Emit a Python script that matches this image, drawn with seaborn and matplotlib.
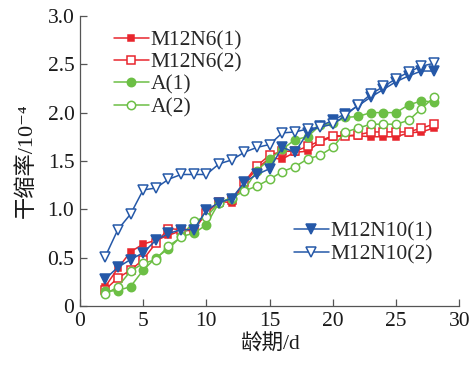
import matplotlib
matplotlib.use('Agg')
import matplotlib.pyplot as plt
import seaborn as sns
import numpy as np
import pandas as pd

# 龄期 (d)
days = list(range(2, 29))

m12n6_1 = [0.20, 0.39, 0.56, 0.64, 0.68, 0.73, 0.78, 0.78, 0.97, 1.08, 1.07, 1.27, 1.42, 1.53,
           1.52, 1.59, 1.60, 1.70, 1.75, 1.76, 1.76, 1.75, 1.75, 1.75, 1.79, 1.80, 1.84]
m12n6_2 = [0.17, 0.29, 0.37, 0.48, 0.65, 0.80, 0.79, 0.79, 0.96, 1.08, 1.10, 1.28, 1.45, 1.56,
           1.60, 1.60, 1.65, 1.71, 1.76, 1.76, 1.77, 1.80, 1.80, 1.80, 1.80, 1.84, 1.88]
a_1 = [0.15, 0.16, 0.20, 0.37, 0.50, 0.59, 0.72, 0.75, 0.84, 1.07, 1.11, 1.20, 1.40, 1.52,
       1.62, 1.72, 1.75, 1.87, 1.89, 1.95, 1.96, 2.00, 2.00, 2.00, 2.08, 2.12, 2.11]
a_2 = [0.12, 0.20, 0.36, 0.44, 0.48, 0.62, 0.71, 0.88, 0.92, 1.07, 1.12, 1.19, 1.24, 1.31,
       1.39, 1.44, 1.52, 1.56, 1.64, 1.80, 1.84, 1.88, 1.88, 1.88, 1.92, 2.04, 2.16]
m12n10_1 = [0.28, 0.40, 0.48, 0.55, 0.68, 0.75, 0.79, 0.79, 0.99, 1.07, 1.11, 1.28, 1.36, 1.42,
            1.64, 1.59, 1.79, 1.86, 1.92, 1.99, 2.07, 2.16, 2.24, 2.32, 2.38, 2.43, 2.43]
m12n10_2 = [0.51, 0.79, 0.95, 1.20, 1.22, 1.31, 1.36, 1.36, 1.36, 1.47, 1.51, 1.59, 1.64, 1.67,
            1.79, 1.80, 1.83, 1.85, 1.88, 1.97, 2.08, 2.19, 2.27, 2.35, 2.42, 2.48, 2.51]

labels = ['M12N6(1)', 'M12N6(2)', 'A(1)', 'A(2)', 'M12N10(1)', 'M12N10(2)']
series = [m12n6_1, m12n6_2, a_1, a_2, m12n10_1, m12n10_2]

red = '#e8262d'
green = '#6cbf45'
blue = '#2558a8'
styles = [(red, 's', True, 5), (red, 's', False, 5.5),
          (green, 'o', True, 6), (green, 'o', False, 6),
          (blue, 'v', True, 7), (blue, 'v', False, 7)]

sns.set_style('ticks')
plt.rcParams['font.family'] = ['Liberation Serif', 'Noto Sans CJK SC', 'DejaVu Sans']
plt.rcParams['font.size'] = 15

fig = plt.figure(figsize=(4.73, 3.70), dpi=100)
ax = fig.add_axes([0.169, 0.173, 0.802, 0.784])

for lab, vals, (c, m, filled, ms) in zip(labels, series, styles):
    sns.lineplot(x=days, y=vals, ax=ax, color=c, marker=m, markersize=ms,
                 markerfacecolor=c if filled else 'white', markeredgecolor=c,
                 markeredgewidth=1.1, linewidth=1.1, label=lab)

ax.set_xlim(0, 30)
ax.set_ylim(0, 3.0)
ax.set_xticks(np.arange(0, 31, 5))
ax.set_yticks(np.arange(0, 3.01, 0.5))
ax.set_yticklabels(['0'] + ['%.1f' % v for v in np.arange(0.5, 3.01, 0.5)])
ax.tick_params(direction='in', length=5, width=0.9, colors='#555555', labelcolor='#1a1a1a',
               labelsize=15.5, pad=4)
sns.despine(ax=ax)
for s in ['left', 'bottom']:
    ax.spines[s].set_color('#555555')
    ax.spines[s].set_linewidth(0.9)

ax.set_xlabel('龄期/d', fontsize=15.5, color='#1a1a1a', labelpad=3)
ax.set_ylabel('干缩率/10⁻⁴', fontsize=16, color='#1a1a1a', labelpad=8)

handles, labs = ax.get_legend_handles_labels()
leg1 = ax.legend(handles[:4], labs[:4], loc='upper left', bbox_to_anchor=(0.09, 0.95),
                 frameon=False, fontsize=15.5, handlelength=1.6, handletextpad=0.1,
                 labelspacing=0.1, borderpad=0, borderaxespad=0)
ax.add_artist(leg1)
ax.legend(handles[4:], labs[4:], loc='upper left', bbox_to_anchor=(0.565, 0.29),
          frameon=False, fontsize=15.5, handlelength=1.6, handletextpad=0.1,
          labelspacing=0.1, borderpad=0, borderaxespad=0)

fig.savefig('out.png', dpi=100)
